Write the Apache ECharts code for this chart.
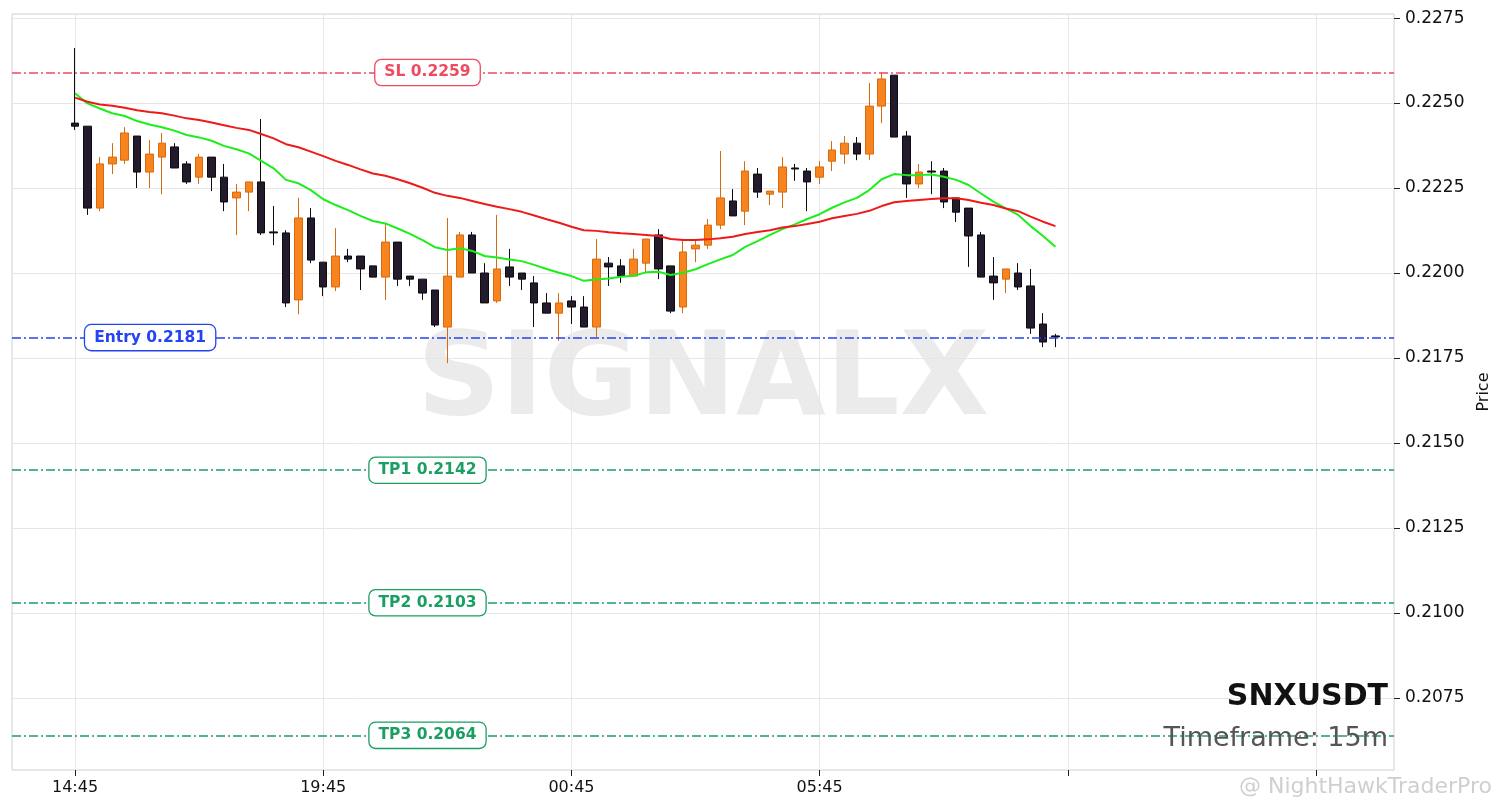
<!DOCTYPE html>
<html><head><meta charset="utf-8">
<script src="https://cdn.jsdelivr.net/npm/echarts@6/dist/echarts.min.js"></script>
<style>html,body{margin:0;padding:0;background:#fff}#c{width:1501px;height:810px}</style>
</head><body><div id="c"></div>
<script>
// ---- data (15m candles, index 0 = 14:45) ----
const xTickIndex = [0, 20, 40, 60, 80, 100];
const xTickLabels = ['14:45', '19:45', '00:45', '05:45'];
const yTicks = [0.2075, 0.2100, 0.2125, 0.2150, 0.2175, 0.2200, 0.2225, 0.2250, 0.2275];

const opens = [
  0.22441,0.22432,0.22191,0.22321,0.22332,0.22403,0.22297,0.22341,0.22371,0.22321,
  0.22282,0.22341,0.22282,0.22221,0.22238,0.22268,0.22121,0.22118,0.21921,0.22162,
  0.22032,0.21959,0.22050,0.22050,0.22021,0.21988,0.22091,0.21991,0.21982,0.21950,
  0.21841,0.21988,0.22112,0.22000,0.21918,0.22018,0.22000,0.21971,0.21912,0.21882,
  0.21918,0.21900,0.21841,0.22029,0.22021,0.21991,0.22029,0.22112,0.22021,0.21900,
  0.22071,0.22082,0.22141,0.22212,0.22182,0.22291,0.22232,0.22238,0.22309,0.22300,
  0.22282,0.22329,0.22350,0.22382,0.22350,0.22491,0.22582,0.22403,0.22262,0.22300,
  0.22300,0.22221,0.22191,0.22112,0.21991,0.21982,0.22000,0.21962,0.21850,0.21815
];
const closes = [
  0.22432,0.22191,0.22321,0.22341,0.22412,0.22297,0.22350,0.22382,0.22309,0.22268,
  0.22341,0.22282,0.22209,0.22238,0.22268,0.22118,0.22118,0.21912,0.22162,0.22038,
  0.21959,0.22050,0.22041,0.22012,0.21988,0.22091,0.21982,0.21982,0.21941,0.21847,
  0.21991,0.22112,0.22000,0.21912,0.22012,0.21988,0.21982,0.21912,0.21882,0.21912,
  0.21900,0.21841,0.22041,0.22018,0.21991,0.22041,0.22100,0.22012,0.21888,0.22062,
  0.22082,0.22141,0.22221,0.22168,0.22300,0.22238,0.22241,0.22312,0.22306,0.22268,
  0.22312,0.22362,0.22382,0.22350,0.22491,0.22571,0.22400,0.22262,0.22297,0.22297,
  0.22209,0.22179,0.22109,0.21988,0.21971,0.22012,0.21959,0.21838,0.21797,0.21812
];
const lows = [
  0.22421,0.22171,0.22182,0.22291,0.22321,0.22250,0.22250,0.22232,0.22309,0.22262,
  0.22262,0.22241,0.22182,0.22112,0.22182,0.22112,0.22082,0.21900,0.21879,0.22029,
  0.21932,0.21947,0.22032,0.21950,0.21988,0.21921,0.21962,0.21962,0.21921,0.21841,
  0.21735,0.21988,0.22000,0.21912,0.21912,0.21962,0.21950,0.21841,0.21882,0.21800,
  0.21850,0.21841,0.21812,0.21962,0.21971,0.21991,0.22003,0.21982,0.21882,0.21882,
  0.22032,0.22071,0.22129,0.22168,0.22141,0.22221,0.22200,0.22191,0.22271,0.22182,
  0.22262,0.22300,0.22321,0.22332,0.22332,0.22441,0.22400,0.22221,0.22250,0.22232,
  0.22191,0.22150,0.22018,0.21988,0.21921,0.21941,0.21950,0.21821,0.21782,0.21782
];
const highs = [
  0.22662,0.22432,0.22341,0.22382,0.22429,0.22403,0.22391,0.22412,0.22382,0.22329,
  0.22350,0.22341,0.22321,0.22262,0.22268,0.22453,0.22197,0.22126,0.22221,0.22191,
  0.22032,0.22132,0.22071,0.22050,0.22021,0.22147,0.22091,0.21991,0.21982,0.21950,
  0.22162,0.22121,0.22121,0.22029,0.22171,0.22071,0.22000,0.21991,0.21941,0.21941,
  0.21932,0.21932,0.22100,0.22047,0.22041,0.22071,0.22100,0.22129,0.22021,0.22094,
  0.22100,0.22159,0.22359,0.22247,0.22329,0.22309,0.22241,0.22341,0.22321,0.22309,
  0.22329,0.22388,0.22403,0.22400,0.22559,0.22591,0.22582,0.22418,0.22321,0.22329,
  0.22309,0.22221,0.22191,0.22121,0.22047,0.22012,0.22029,0.22012,0.21882,0.21821
];
const emaFast = [
  0.22529,0.22499,0.22484,0.22470,0.22462,0.22447,0.22437,0.22429,0.22419,0.22406,
  0.22399,0.22389,0.22374,0.22364,0.22352,0.22330,0.22308,0.22274,0.22264,0.22244,
  0.22217,0.22200,0.22185,0.22168,0.22153,0.22146,0.22131,0.22115,0.22097,0.22076,
  0.22068,0.22073,0.22065,0.22050,0.22046,0.22040,0.22035,0.22024,0.22012,0.22001,
  0.21991,0.21977,0.21981,0.21984,0.21989,0.21992,0.22002,0.22004,0.21994,0.22001,
  0.22011,0.22026,0.22040,0.22053,0.22077,0.22094,0.22112,0.22129,0.22143,0.22159,
  0.22173,0.22192,0.22208,0.22221,0.22244,0.22276,0.22291,0.22288,0.22288,0.22290,
  0.22283,0.22274,0.22259,0.22234,0.22210,0.22190,0.22171,0.22138,0.22109,0.22077
];
const emaSlow = [
  0.22516,0.22504,0.22496,0.22492,0.22486,0.22479,0.22474,0.22470,0.22463,0.22455,
  0.22450,0.22443,0.22435,0.22427,0.22421,0.22409,0.22396,0.22379,0.22370,0.22357,
  0.22344,0.22330,0.22318,0.22305,0.22293,0.22286,0.22276,0.22264,0.22251,0.22236,
  0.22227,0.22221,0.22212,0.22203,0.22195,0.22188,0.22180,0.22169,0.22158,0.22148,
  0.22136,0.22126,0.22124,0.22120,0.22117,0.22115,0.22112,0.22109,0.22100,0.22097,
  0.22097,0.22099,0.22102,0.22107,0.22115,0.22121,0.22126,0.22134,0.22138,0.22144,
  0.22151,0.22161,0.22168,0.22174,0.22183,0.22197,0.22208,0.22212,0.22215,0.22218,
  0.22220,0.22220,0.22215,0.22207,0.22200,0.22190,0.22182,0.22166,0.22151,0.22138
];
const levelNames = ['SL', 'Entry', 'TP1', 'TP2', 'TP3'];
const levelValues = [0.2259, 0.2181, 0.2142, 0.2103, 0.2064];

// ---- styling / layout ----
const FONT = 'DejaVu Sans';
const X_MIN = -5.08, X_MAX = 106.28;
const levelColors = ['#ee4a60', '#2443f2', '#1a9e62', '#1a9e62', '#1a9e62'];
const levelLabelX = [28.4, 6.05, 28.4, 28.4, 28.4];

const candleData = opens.map((o, i) => [i, o, closes[i], lows[i], highs[i]]);
const fastData = emaFast.map((v, i) => [i, v]);
const slowData = emaSlow.map((v, i) => [i, v]);

const chart = echarts.init(document.getElementById('c'), null, {renderer: 'canvas'});
chart.setOption({
  animation: false,
  backgroundColor: '#ffffff',
  grid: {left: 12, right: 107, top: 14, bottom: 40, show: true, borderColor: '#d0d0d0', borderWidth: 1, backgroundColor: 'transparent'},
  xAxis: {
    type: 'value', min: X_MIN, max: X_MAX,
    axisLine: {show: false, onZero: false},
    axisTick: {show: true, customValues: xTickIndex, length: 6, lineStyle: {color: '#222'}},
    axisLabel: {customValues: xTickIndex.slice(0, xTickLabels.length), formatter: v => xTickLabels[xTickIndex.indexOf(v)] || '',
                color: '#111', fontSize: 16, fontFamily: FONT, margin: 10},
    splitLine: {show: true, lineStyle: {color: '#e6e6e6', width: 1}}
  },
  yAxis: {
    type: 'value', position: 'right', min: 0.20538, max: 0.22762,
    axisLine: {show: false, onZero: false},
    axisTick: {show: true, customValues: yTicks, length: 6, lineStyle: {color: '#222'}},
    axisLabel: {customValues: yTicks, formatter: v => v.toFixed(4), color: '#111', fontSize: 17, fontFamily: FONT, margin: 11},
    splitLine: {show: true, lineStyle: {color: '#e6e6e6', width: 1}},
    name: 'Price', nameLocation: 'middle', nameGap: 80, nameRotate: 90,
    nameTextStyle: {color: '#111', fontSize: 16, fontFamily: FONT}
  },
  graphic: [
    {type: 'text', x: 703, y: 384, z: 0, silent: true,
     style: {text: 'SIGNALX', font: 'bold 116px "DejaVu Sans"', fill: '#ebebeb', align: 'center', verticalAlign: 'middle', textAlign: 'center', textVerticalAlign: 'middle'}},
    {type: 'text', x: 1388, y: 697, z: 10, silent: true,
     style: {text: 'SNXUSDT', font: 'bold 30px "DejaVu Sans"', fill: '#111', align: 'right', verticalAlign: 'middle', textAlign: 'right', textVerticalAlign: 'middle'}},
    {type: 'text', x: 1388, y: 739, z: 10, silent: true,
     style: {text: 'Timeframe: 15m', font: '27px "DejaVu Sans"', fill: '#555', align: 'right', verticalAlign: 'middle', textAlign: 'right', textVerticalAlign: 'middle'}},
    {type: 'text', x: 1492, y: 787, z: 10, silent: true,
     style: {text: '@ NightHawkTraderPro', font: '22px "DejaVu Sans"', fill: '#cfcfcf', align: 'right', verticalAlign: 'middle', textAlign: 'right', textVerticalAlign: 'middle'}}
  ],
  series: [
    {
      type: 'candlestick', name: 'SNXUSDT', data: candleData, z: 3,
      encode: {x: 0, y: [1, 2, 3, 4]},
      barWidth: 8,
      itemStyle: {color: '#f7841e', color0: '#231a2c', borderColor: '#d96a0c', borderColor0: '#0e0a12', borderWidth: 1}
    },
    {type: 'line', name: 'EMA fast', data: fastData, showSymbol: false, symbol: 'none', z: 4,
     lineStyle: {color: '#1cee1c', width: 2}},
    {type: 'line', name: 'EMA slow', data: slowData, showSymbol: false, symbol: 'none', z: 4,
     lineStyle: {color: '#ee1a1a', width: 2}},
    {
      type: 'line', name: 'levels', data: [], z: 5,
      markLine: {
        silent: true, symbol: 'none', label: {show: false},
        data: levelValues.map((v, k) => [
          {coord: [X_MIN, v], lineStyle: {color: levelColors[k], type: [9, 3, 2, 3], width: 1.5, opacity: 1}},
          {coord: [X_MAX, v]}
        ])
      },
      markPoint: {
        silent: true,
        data: levelValues.map((v, k) => ({
          coord: [levelLabelX[k], v], symbol: 'rect', symbolSize: 0,
          label: {show: true, position: 'inside', formatter: levelNames[k] + ' ' + v.toFixed(4),
                  color: levelColors[k], fontWeight: 'bold', fontSize: 15.5, fontFamily: FONT,
                  backgroundColor: '#ffffff', borderColor: levelColors[k], borderWidth: 1.3, borderRadius: 6, padding: [5, 9, 4, 9]}
        }))
      }
    }
  ]
});
</script>
</body></html>
